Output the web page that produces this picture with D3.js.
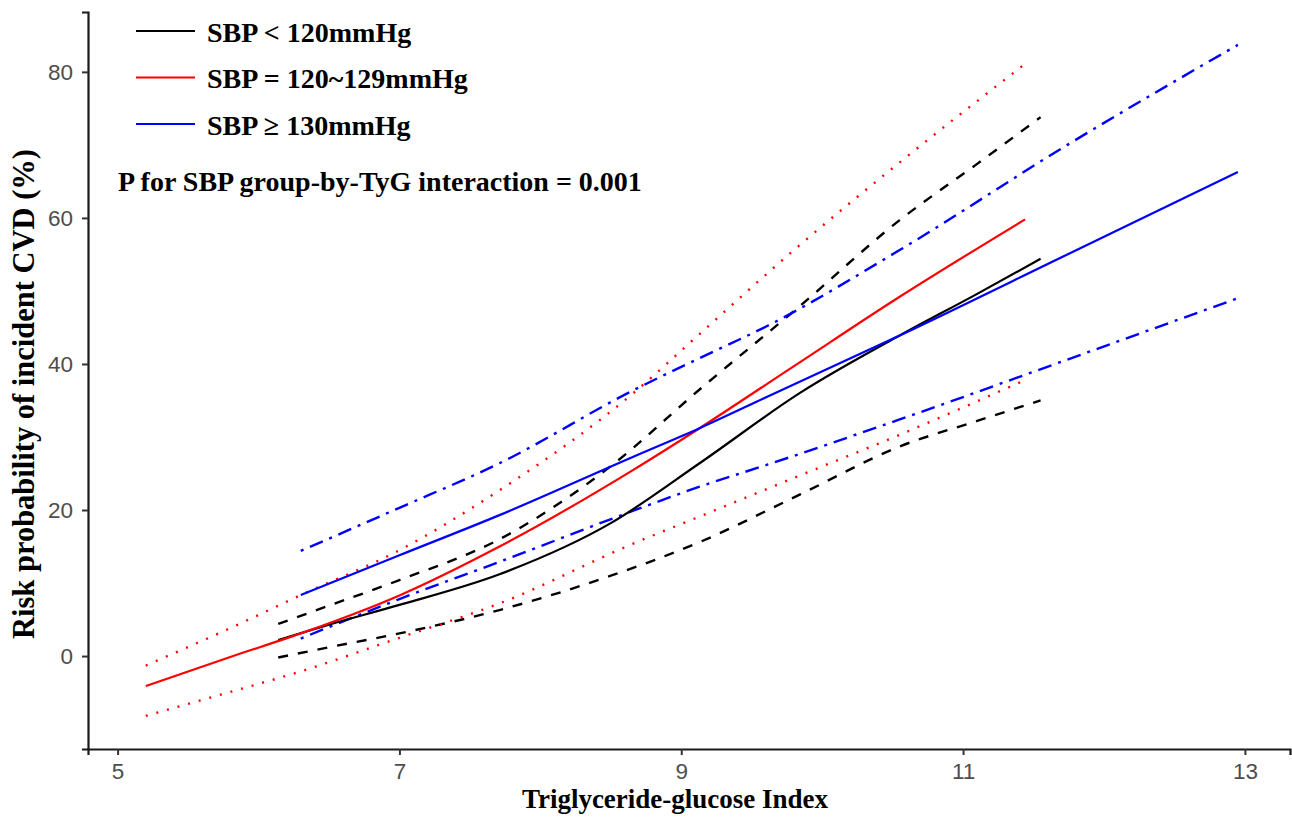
<!DOCTYPE html>
<html>
<head>
<meta charset="utf-8">
<script src="https://cdn.jsdelivr.net/npm/d3@7"></script>
<style>
  body { margin: 0; background: #fff; }
  svg { display: block; }
</style>
</head>
<body>
<svg id="chart" width="1292" height="818"></svg>
<script>
// SBP < 120mmHg
const blackX    = [6.14, 6.5, 7.0, 7.71, 8.5, 9.13, 9.84, 10.55, 11.1, 11.55];
const blackEst  = [2.2, 4.3, 7.0, 11.2, 18.2, 26.4, 36.0, 43.9, 49.6, 54.4];
const blackLow  = [-0.2, 1.2, 3.1, 6.3, 11.0, 15.6, 22.1, 28.7, 32.2, 35.0];
const blackHigh = [4.4, 6.9, 10.4, 16.0, 26.0, 36.5, 47.9, 59.7, 67.4, 73.8];

// SBP = 120~129mmHg
const redX    = [5.2, 5.82, 6.3, 7.0, 7.71, 8.66, 9.13, 9.8, 10.55, 11.44];
const redEst  = [-4.1, 0.0, 3.1, 8.3, 15.0, 25.5, 31.2, 39.7, 49.2, 59.8];
const redLow  = [-8.2, -4.8, -2.1, 2.5, 7.2, 15.4, 19.1, 24.4, 30.3, 37.8];
const redHigh = [-1.3, 4.0, 8.35, 14.5, 22.7, 36.0, 44.1, 55.6, 67.6, 81.1];

// SBP >= 130mmHg
const blueX    = [6.3, 7.0, 7.71, 8.66, 9.13, 9.61, 10.55, 11.74, 12.95];
const blueEst  = [8.35, 13.8, 19.3, 27.3, 31.2, 35.5, 43.9, 55.0, 66.3];
const blueLow  = [2.4, 7.8, 12.9, 19.9, 23.2, 26.2, 32.4, 40.6, 49.0];
const blueHigh = [14.4, 20.3, 26.4, 36.4, 40.8, 45.2, 55.6, 70.0, 83.7];

const xTicks = [5, 7, 9, 11, 13];
const yTicks = [0, 20, 40, 60, 80];
const legendLabels = ['SBP < 120mmHg', 'SBP = 120~129mmHg', 'SBP \u2265 130mmHg'];
const groupColors = ['#000000', '#ff0000', '#0000ff'];
const ciDash = ['10,10', '2,9', '3,7,14,7'];

const svg = d3.select('#chart');
const margin = { left: 88, right: 2, top: 12, bottom: 69 };
const W = 1292, H = 818;
const serif = '"Liberation Serif", "Times New Roman", serif';

const x = d3.scaleLinear().domain([4.79, 13.32]).range([margin.left, W - margin.right]);
const y = d3.scaleLinear().domain([-12.73, 88.2]).range([H - margin.bottom, margin.top]);

const line = d3.line()
  .x(d => x(d[0]))
  .y(d => y(d[1]))
  .curve(d3.curveMonotoneX);

const groups = [
  { xs: blackX, est: blackEst, low: blackLow, high: blackHigh },
  { xs: redX, est: redEst, low: redLow, high: redHigh },
  { xs: blueX, est: blueEst, low: blueLow, high: blueHigh }
];

const plot = svg.append('g');
groups.forEach((g, i) => {
  [g.low, g.high].forEach(vals => {
    plot.append('path')
      .datum(d3.zip(g.xs, vals))
      .attr('fill', 'none')
      .attr('stroke', groupColors[i])
      .attr('stroke-width', 2.4)
      .attr('stroke-dasharray', ciDash[i])
      .attr('d', line);
  });
});
groups.forEach((g, i) => {
  plot.append('path')
    .datum(d3.zip(g.xs, g.est))
    .attr('fill', 'none')
    .attr('stroke', groupColors[i])
    .attr('stroke-width', 2.2)
    .attr('d', line);
});

// axes
const xAxis = svg.append('g')
  .attr('transform', `translate(0,${H - margin.bottom})`)
  .call(d3.axisBottom(x).tickValues(xTicks).tickSize(6).tickPadding(8).tickFormat(d3.format('d')));
const yAxis = svg.append('g')
  .attr('transform', `translate(${margin.left},0)`)
  .call(d3.axisLeft(y).tickValues(yTicks).tickSize(6).tickPadding(9).tickFormat(d3.format('d')));

[xAxis, yAxis].forEach(a => {
  a.attr('font-size', 22.5);
  a.select('.domain').attr('stroke', '#1a1a1a').attr('stroke-width', 2.2);
  a.selectAll('.tick line').attr('stroke', '#333').attr('stroke-width', 2);
  a.selectAll('.tick text')
    .attr('fill', '#4d4d4d')
    .attr('font-family', '"Liberation Sans", Arial, sans-serif')
    .attr('font-size', 22.5);
});

// axis titles
svg.append('text')
  .attr('x', 675)
  .attr('y', 808)
  .attr('text-anchor', 'middle')
  .style('font-family', serif)
  .style('font-weight', 'bold')
  .style('font-size', '27px')
  .text('Triglyceride-glucose Index');

svg.append('text')
  .attr('transform', 'translate(34,394) rotate(-90)')
  .attr('text-anchor', 'middle')
  .style('font-family', serif)
  .style('font-weight', 'bold')
  .style('font-size', '30.5px')
  .text('Risk probability of incident CVD (%)');

// legend
const legend = svg.append('g');
legendLabels.forEach((lab, i) => {
  const ly = 31 + i * 46.5;
  legend.append('line')
    .attr('x1', 136).attr('x2', 195)
    .attr('y1', ly).attr('y2', ly)
    .attr('stroke', groupColors[i])
    .attr('stroke-width', 2.2);
  legend.append('text')
    .attr('x', 207)
    .attr('y', ly + 10.5)
    .style('font-family', serif)
    .style('font-weight', 'bold')
    .style('font-size', '28px')
    .text(lab);
});

svg.append('text')
  .attr('x', 118)
  .attr('y', 190.5)
  .style('font-family', serif)
  .style('font-weight', 'bold')
  .style('font-size', '28px')
  .text('P for SBP group-by-TyG interaction = 0.001');
</script>
</body>
</html>
